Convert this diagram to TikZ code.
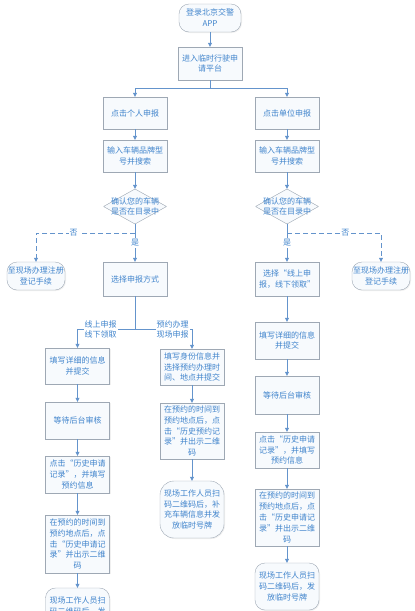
\documentclass[tikz,border=0pt]{standalone}
\usepackage{fontspec}
\setmainfont{Noto Sans CJK SC}
\usetikzlibrary{arrows.meta,shadows}
\definecolor{txtblue}{RGB}{64,132,204}
\definecolor{lineblue}{RGB}{100,148,204}
\definecolor{boxgray}{RGB}{158,168,180}
\definecolor{boxfill}{RGB}{247,250,253}
\begin{document}
\begin{tikzpicture}[x=1pt,y=-1pt,
  box/.style={rectangle,draw=boxgray,fill=boxfill,text=txtblue,align=center,
    font=\fontsize{8}{10.8}\selectfont,minimum width=64pt,inner sep=1pt,
    drop shadow={opacity=0.12,shadow xshift=1pt,shadow yshift=-1pt}},
  term/.style={box,rounded corners=10pt},
  chk/.style={rectangle,fill=white,text=txtblue,align=center,inner sep=0pt,
    font=\fontsize{8}{10.8}\selectfont,minimum width=63pt,minimum height=35pt,
    path picture={\draw[draw=boxgray,fill=boxfill] (path picture bounding box.north)
      -- (path picture bounding box.east) -- (path picture bounding box.south)
      -- (path picture bounding box.west) -- cycle;}},
  line/.style={draw=lineblue},
  arr/.style={line,-{Triangle[width=4pt,length=4pt]}},
  dsh/.style={arr,dashed,dash pattern=on 5pt off 3pt},
  lbl/.style={fill=white,text=txtblue,align=center,inner sep=1pt,
    font=\fontsize{8}{10}\selectfont}]
\useasboundingbox (0,0) rectangle (415,611);
\clip (0,0) rectangle (415,611);
% entry
\node[term,minimum height=28pt,minimum width=62pt] (app) at (210,18) {登录北京交警\\APP};
\node[box,minimum height=33pt] (plat) at (210,63.5) {进入临时行驶申\\请平台};
\coordinate (s0) at (210,88);
% personal / company branches
\node[box,minimum height=32pt] (perL) at (135,113) {点击个人申报};
\node[box,minimum height=32pt] (perR) at (287,113) {点击单位申报};
\node[box,minimum height=32pt] (carL) at (135,156) {输入车辆品牌型\\号并搜索};
\node[box,minimum height=32pt] (carR) at (287,156) {输入车辆品牌型\\号并搜索};
\node[chk] (chkL) at (135,206.5) {确认您的车辆\\是否在目录中};
\node[chk] (chkR) at (287,206.5) {确认您的车辆\\是否在目录中};
\coordinate (nL) at (135,233);
\coordinate (nR) at (287,233);
\node[term,minimum height=28pt,minimum width=58pt] (regL) at (36,276) {至现场办理注册\\登记手续};
\node[term,minimum height=28pt,minimum width=58pt] (regR) at (381,276) {至现场办理注册\\登记手续};
\node[box,minimum height=34pt] (mode) at (135,279) {选择申报方式};
\node[box,minimum height=34pt] (onl) at (287,279) {选择“线上申\\报，线下领取”};
\coordinate (s1) at (135,329);
% left column
\node[box,minimum height=36pt] (fillL) at (77.5,366) {填写详细的信息\\并提交};
\node[box,minimum height=37pt] (waitL) at (77.5,420.5) {等待后台审核};
\node[box,minimum height=37pt] (clkL) at (77.5,474.5) {点击“历史申请\\记录”，并填写\\预约信息};
\node[box,minimum height=58pt] (visL) at (77.5,544) {在预约的时间到\\预约地点后，点\\击“历史申请记\\录”并出示二维\\码};
\node[term,minimum height=47pt] (staffL) at (77.5,611.5) {现场工作人员扫\\码二维码后，发\\放临时号牌};
% middle column
\node[box,minimum height=36pt] (idM) at (192,367) {填写身份信息并\\选择预约办理时\\间、地点并提交};
\node[box,minimum height=56pt] (visM) at (192,431) {在预约的时间到\\预约地点后，点\\击“历史预约记\\录”并出示二维\\码};
\node[term,minimum height=57pt,rounded corners=14pt] (staffM) at (192,509.5) {现场工作人员扫\\码二维码后，补\\充车辆信息并发\\放临时号牌};
% right column
\node[box,minimum height=37pt] (fillR) at (287,340.5) {填写详细的信息\\并提交};
\node[box,minimum height=38pt] (waitR) at (287,395) {等待后台审核};
\node[box,minimum height=36pt] (clkR) at (287,450) {点击“历史申请\\记录”，并填写\\预约信息};
\node[box,minimum height=57pt] (visR) at (287,517.5) {在预约的时间到\\预约地点后，点\\击“历史申请记\\录”并出示二维\\码};
\node[term,minimum height=47pt] (staffR) at (287,586.5) {现场工作人员扫\\码二维码后，发\\放临时号牌};
% connectors
\draw[arr] (app) -- (plat);
\draw[line] (plat) -- (s0);
\draw[arr] (s0) -| (perL);
\draw[arr] (s0) -| (perR);
\foreach \a/\b in {perL/carL,carL/chkL,perR/carR,carR/chkR,onl/fillR,fillR/waitR,
  waitR/clkR,clkR/visR,visR/staffR,fillL/waitL,waitL/clkL,clkL/visL,visL/staffL,
  idM/visM,visM/staffM}
  \draw[arr] (\a) -- (\b);
\draw[arr] (chkL) -- node[lbl]{是} (mode);
\draw[arr] (chkR) -- node[lbl]{是} (onl);
\draw[dsh] (nL) -| node[lbl,pos=0.31]{否} (regL);
\draw[dsh] (nR) -| node[lbl,pos=0.31]{否} (regR);
\draw[line] (mode) -- (s1);
\draw[arr] (s1) -| node[lbl,pos=0.3]{线上申报\\线下领取} (fillL);
\draw[arr] (s1) -| node[lbl,pos=0.33]{预约办理\\现场申报} (idM);
\end{tikzpicture}
\end{document}
